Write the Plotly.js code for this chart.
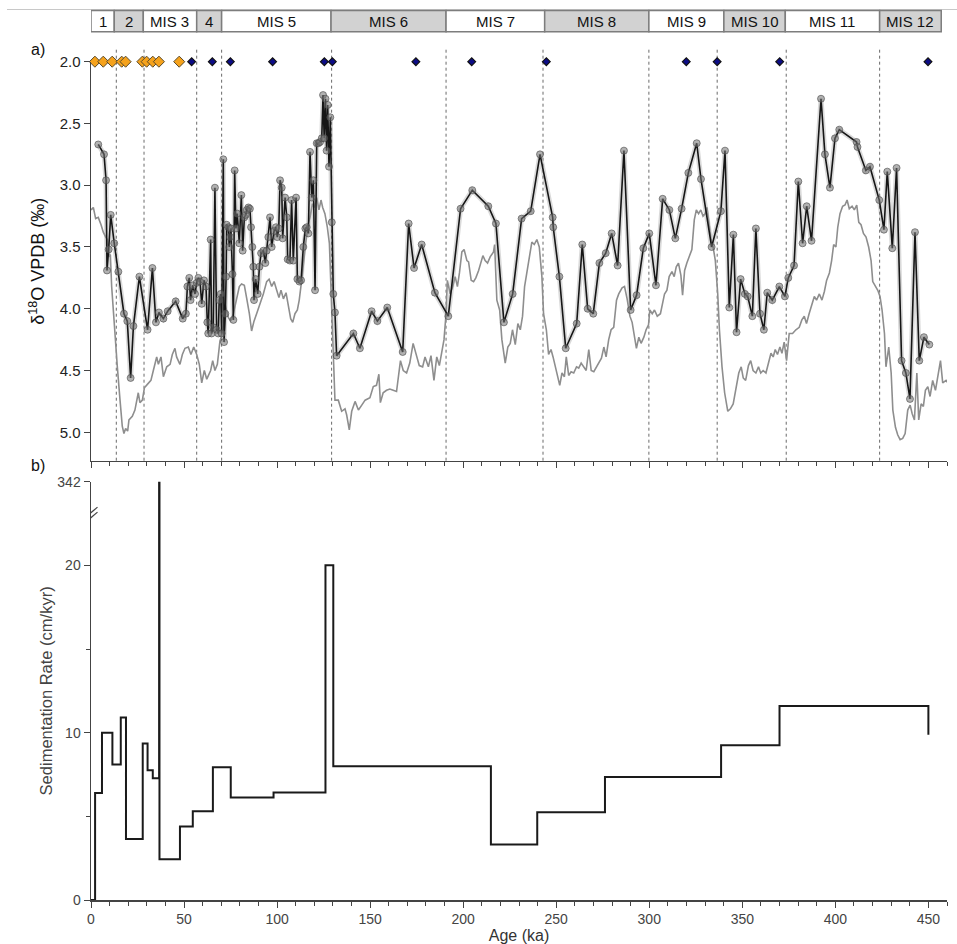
<!DOCTYPE html>
<html>
<head>
<meta charset="utf-8">
<script src="https://cdn.plot.ly/plotly-3.0.1.min.js"></script>
<style>html,body{margin:0;padding:0;background:#fff;}#chart{width:957px;height:944px;}</style>
</head>
<body>
<div id="chart"></div>
<script>
// ---------- data ----------
const misLabels = ['1','2','MIS 3','4','MIS 5','MIS 6','MIS 7','MIS 8','MIS 9','MIS 10','MIS 11','MIS 12'];
const misBoxEdges = [0, 12.5, 28.1, 56.8, 70.2, 129.0, 190.8, 243.8, 299.8, 340.1, 373.1, 423.8, 456.9];
const misBoundaries = [13.6, 28.5, 56.8, 70.2, 129.3, 190.8, 242.9, 299.8, 336.5, 373.6, 423.8];

const c14Ages = [2.1, 6.6, 11.4, 16.5, 18.6, 27.6, 29.9, 33.2, 36.5, 47.4];
const tieAges = [54.1, 65.2, 74.9, 97.6, 125.4, 129.7, 174.6, 204.6, 244.7, 319.9, 336.5, 370.1, 449.8];
const markerLevel = 2.0;

const benthicAge = [3.9,7.0,8.1,8.6,9.5,10.6,12.5,14.7,17.7,19.5,21.3,22.8,26.0,30.4,33.0,34.9,36.5,38.9,41.2,45.5,49.3,51.0,51.8,52.8,53.5,54.6,55.9,56.8,57.7,58.6,59.5,60.7,61.8,62.5,63.0,64.3,64.8,65.7,66.6,67.5,68.4,68.9,69.7,70.2,71.1,71.5,72.2,72.6,72.9,73.8,74.3,74.7,75.2,76.0,76.5,77.2,77.9,78.6,79.7,80.8,81.5,82.4,83.1,83.7,84.6,85.4,86.0,86.7,87.2,87.6,88.5,89.6,90.5,91.4,92.6,93.7,94.4,95.3,96.2,97.1,98.4,99.4,100.1,100.9,101.6,102.5,103.0,104.3,105.2,105.7,106.9,107.8,108.7,110.2,110.9,112.0,112.9,114.1,115.2,115.9,116.8,117.7,118.6,119.5,120.4,121.3,122.2,123.1,124.0,124.7,125.3,126.0,126.6,127.2,127.9,128.6,129.4,130.2,131.1,132.0,141.0,144.5,150.8,153.9,159.2,167.5,170.7,173.6,177.7,184.8,192.0,198.6,204.9,213.5,217.6,221.9,226.6,231.4,236.3,241.3,248.1,248.4,251.7,255.1,261.0,264.0,266.9,269.9,273.2,276.6,279.8,283.0,286.4,290.0,293.2,296.8,300.0,303.6,307.2,310.8,314.0,317.4,321.0,325.5,327.8,333.5,338.5,340.7,343.0,345.2,346.9,349.1,351.4,352.9,355.4,357.3,359.5,361.6,363.4,366.1,369.9,372.9,374.7,377.8,380.1,382.4,384.6,387.2,392.3,394.4,397.1,399.8,402.1,411.4,411.9,416.4,418.6,423.6,426.1,427.9,430.6,432.9,435.6,437.9,440.1,442.8,445.1,447.6,450.5];
const benthicD18O = [2.67,2.75,2.96,3.69,3.52,3.24,3.47,3.70,4.04,4.10,4.56,4.14,3.74,4.17,3.67,4.11,4.03,4.08,4.02,3.94,4.08,4.04,3.82,3.75,3.93,3.81,3.88,3.79,3.75,3.78,3.96,3.77,3.82,4.11,4.20,3.44,4.20,4.15,3.02,4.17,4.20,3.93,3.88,4.20,2.79,4.27,4.04,3.74,3.32,3.34,3.50,3.42,3.35,3.72,4.09,2.88,3.35,3.23,3.47,3.08,3.53,3.26,3.24,3.20,3.18,3.19,3.34,3.50,3.66,3.93,3.76,3.88,3.66,3.55,3.53,3.63,3.53,3.42,3.26,3.50,3.37,3.34,3.42,3.35,2.96,3.02,3.43,3.10,3.26,3.60,3.61,3.12,3.61,3.10,3.76,3.78,3.77,3.50,3.35,3.34,3.39,2.73,3.10,2.96,3.85,2.66,2.66,2.65,2.62,2.27,2.62,2.30,2.72,2.35,2.85,2.45,3.30,3.88,4.03,4.38,4.20,4.32,4.02,4.10,3.99,4.35,3.31,3.67,3.48,3.87,4.06,3.19,3.04,3.17,3.31,4.11,3.88,3.27,3.21,2.75,3.26,3.34,3.74,4.32,4.12,3.48,4.00,4.04,3.63,3.55,3.39,3.65,2.72,4.01,3.89,3.51,3.39,3.81,3.11,3.20,3.43,3.19,2.90,2.66,2.95,3.50,3.21,2.72,3.99,3.40,4.19,3.76,3.88,3.90,4.06,3.35,4.04,4.17,3.87,3.93,3.82,3.90,3.75,3.65,2.97,3.47,3.17,3.45,2.30,2.75,3.02,2.62,2.55,2.65,2.69,2.88,2.85,3.12,3.36,2.89,3.51,2.86,4.42,4.52,4.73,3.38,4.42,4.23,4.29];

const stackAge = [0,1.25,2.5,3.9,5.4,6.6,7.9,8.8,9.7,10.4,11.1,12.5,14.15,15.6,16.8,17.7,18.6,19.7,20.4,22.2,23.6,25.4,26.3,27.6,28.7,30.4,32.2,33.5,34.4,35.3,36.2,37.6,38.9,40.7,42.5,43.7,45.1,46.0,47.8,49.1,50.5,52.3,53.7,55.2,56.8,58.2,59.5,60.9,62.2,64.3,65.4,66.6,67.9,69.3,70.7,72.0,73.8,75.0,76.5,78.3,79.7,80.9,82.4,83.6,85.1,86.3,87.6,89.0,90.8,92.6,94.4,95.7,97.1,98.4,99.8,101.0,102.1,103.4,104.8,106.0,107.3,108.4,109.6,110.9,111.9,113.2,114.5,115.5,116.8,117.7,119.0,120.0,121.3,122.5,123.6,124.5,125.7,127.0,128.1,129.3,130.2,131.1,132.9,134.7,136.5,137.4,138.8,140.1,141.9,143.7,145.5,147.3,149.9,151.7,153.4,154.7,155.5,157.0,158.8,160.6,162.4,164.2,166.3,167.8,169.6,171.3,173.1,174.6,176.4,178.2,179.5,181.3,182.7,184.3,185.8,187.2,188.4,189.7,190.8,191.5,193.0,194.4,195.7,196.9,198.0,199.3,200.5,202.0,202.9,204.3,205.6,206.8,208.3,209.5,210.6,211.8,213.1,214.5,216.3,216.9,218.1,219.6,220.8,222.6,224.0,225.3,226.5,228.0,229.4,230.7,231.9,233.0,234.2,235.7,236.9,238.2,239.6,240.9,242.3,243.2,244.7,245.9,247.2,248.3,249.5,250.8,251.9,253.1,254.4,255.4,256.7,258.0,259.4,260.9,262.1,263.4,264.8,266.1,267.5,268.8,270.2,271.6,272.9,274.3,275.6,276.8,278.2,279.5,280.9,282.4,283.6,285.4,286.7,288.1,289.6,290.8,292.1,293.1,294.4,295.6,297.1,298.3,299.6,300.3,301.6,302.8,304.3,306.0,308.2,309.5,310.7,312.2,313.4,314.5,315.7,317.0,317.9,319.0,320.2,321.5,322.9,324.2,325.3,326.5,327.7,328.9,330.1,331.0,331.9,333.2,334.3,335.5,336.8,337.7,339.1,340.5,342.2,343.6,345.1,346.7,348.1,349.4,350.5,351.8,353.3,354.5,355.8,357.3,358.7,359.9,361.2,362.7,364.1,365.4,366.6,367.7,368.9,370.2,371.3,372.5,373.8,375.2,377.0,378.8,380.6,382.0,383.3,384.5,385.9,387.2,388.7,389.9,391.4,392.8,394.1,395.3,396.8,398.0,399.1,400.3,401.3,402.5,403.9,405.2,406.3,407.5,409.0,410.2,411.5,412.6,413.8,415.1,416.5,417.9,419.2,420.1,421.3,422.8,424.0,425.1,426.4,427.2,428.7,430.0,430.9,432.3,433.5,434.8,436.2,437.5,438.9,440.2,441.3,442.5,443.8,444.8,446.1,447.3,448.4,449.7,450.9,452.3,453.8,455.0,456.5,457.7,459.5,460.5];
const stackD18O = [3.20,3.18,3.27,3.26,3.32,3.38,3.42,3.44,3.58,3.56,3.82,4.15,4.47,4.74,4.95,5.01,4.97,4.99,4.90,4.87,4.82,4.68,4.76,4.74,4.64,4.61,4.58,4.50,4.45,4.39,4.45,4.39,4.55,4.47,4.45,4.37,4.32,4.39,4.45,4.37,4.32,4.31,4.37,4.31,4.37,4.45,4.60,4.50,4.57,4.50,4.42,4.50,4.45,4.26,4.20,3.96,4.07,4.10,4.04,3.93,3.82,3.80,3.81,3.91,4.04,4.18,4.10,4.04,3.96,3.88,3.78,3.76,3.82,3.78,3.85,3.91,3.85,3.92,3.87,3.96,4.08,4.11,4.04,4.01,3.93,3.77,3.58,3.45,3.31,3.26,3.15,3.18,3.10,3.20,3.12,3.18,3.23,3.34,3.47,3.93,4.31,4.74,4.74,4.83,4.81,4.86,4.98,4.83,4.75,4.82,4.78,4.74,4.72,4.63,4.62,4.53,4.76,4.68,4.66,4.65,4.66,4.67,4.42,4.50,4.52,4.44,4.28,4.36,4.46,4.47,4.39,4.47,4.38,4.58,4.39,4.46,4.37,4.25,4.04,3.77,3.88,3.82,3.74,3.82,3.71,3.54,3.52,3.61,3.62,3.77,3.78,3.75,3.69,3.63,3.57,3.61,3.63,3.58,3.54,3.48,3.93,4.01,4.25,4.44,4.31,4.28,4.17,4.29,4.12,4.17,4.06,3.82,3.71,3.55,3.46,3.48,3.44,3.50,3.74,4.04,4.17,4.37,4.33,4.39,4.47,4.55,4.62,4.52,4.55,4.39,4.54,4.51,4.52,4.47,4.48,4.44,4.47,4.50,4.33,4.50,4.51,4.47,4.44,4.40,4.31,4.39,4.25,4.17,4.15,3.93,3.88,3.83,3.82,3.92,4.06,4.11,4.23,4.32,4.23,4.28,4.23,4.17,4.13,4.01,4.04,4.01,4.06,4.04,3.88,3.85,3.74,3.70,3.74,3.66,3.63,3.73,3.89,3.69,3.63,3.58,3.52,3.28,3.20,3.23,3.20,3.25,3.23,3.18,3.31,3.44,3.50,3.61,3.88,4.17,4.47,4.68,4.83,4.81,4.77,4.63,4.52,4.47,4.56,4.58,4.46,4.42,4.50,4.52,4.47,4.52,4.50,4.52,4.44,4.36,4.39,4.33,4.37,4.31,4.36,4.27,4.42,4.20,4.20,4.17,4.15,4.09,4.06,4.12,4.04,3.98,3.90,3.93,3.88,3.93,3.86,3.77,3.71,3.61,3.48,3.50,3.34,3.23,3.17,3.16,3.12,3.19,3.17,3.20,3.16,3.30,3.32,3.39,3.42,3.50,3.61,3.78,3.81,3.85,3.90,4.01,4.20,4.47,4.31,4.52,4.82,4.96,5.02,5.06,5.05,5.01,4.82,4.78,4.85,4.90,4.52,4.90,4.77,4.79,4.66,4.63,4.71,4.58,4.66,4.55,4.42,4.60,4.58,4.60];

const sedAge  = [0, 2.2, 5.9, 11.5, 16.0, 18.8, 27.8, 30.4, 33.2, 36.6, 36.8, 47.8, 54.7, 65.5, 75.1, 98.1, 126.0, 130.2, 214.9, 239.8, 276.2, 338.6, 370.0, 450.0];
const sedRate = [0, 6.4, 10.0, 8.1, 10.9, 3.64, 9.35, 7.75, 7.27, 342, 2.43, 4.4, 5.3, 7.93, 6.12, 6.42, 20.0, 8.0, 3.32, 5.25, 7.35, 9.25, 11.6, 9.88];

// broken axis: values above 20 are compressed so that 342 sits 5 units above 20
const breakLow = 20, breakTop = 342, breakSpan = 5;
const sedTickVals = [0, 10, 20, 342];
const d18oTicks = [2.0, 2.5, 3.0, 3.5, 4.0, 4.5, 5.0];

// ---------- helpers ----------
function brk(v){ return v <= breakLow ? v : breakLow + (v - breakLow) * breakSpan / (breakTop - breakLow); }
const F = 'Liberation Sans, Arial, sans-serif';
const W = 957, H = 944;
const px2y = p => 1 - p / H;

const xDom = [91 / W, 947 / W];
const topDom = [px2y(460.7), px2y(61.7)];
const botDom = [px2y(900), px2y(481.7)];

// ---------- traces ----------
const traces = [
  { x: stackAge, y: stackD18O, xaxis:'x2', yaxis:'y2', type:'scatter', mode:'lines',
    line:{color:'#8e8e8e', width:1.6}, hoverinfo:'skip' },
  { x: benthicAge, y: benthicD18O, xaxis:'x2', yaxis:'y2', type:'scatter', mode:'lines',
    line:{color:'rgba(150,150,150,0.35)', width:5}, hoverinfo:'skip' },
  { x: benthicAge, y: benthicD18O, xaxis:'x2', yaxis:'y2', type:'scatter', mode:'lines+markers',
    line:{color:'#161616', width:1.6},
    marker:{symbol:'circle', size:7, color:'rgba(115,115,115,0.55)', line:{color:'rgba(70,70,70,0.6)', width:1}} },
  { x: c14Ages, y: c14Ages.map(() => markerLevel), xaxis:'x2', yaxis:'y2', type:'scatter', mode:'markers',
    cliponaxis:false, marker:{symbol:'diamond', size:8.5, color:'#f5a21c', line:{color:'#5a4a2a', width:1}} },
  { x: tieAges, y: tieAges.map(() => markerLevel), xaxis:'x2', yaxis:'y2', type:'scatter', mode:'markers',
    cliponaxis:false, marker:{symbol:'diamond', size:6, color:'#0c0c86', line:{color:'#111', width:1.2}} },
  { x: sedAge, y: sedRate.map(brk), xaxis:'x', yaxis:'y', type:'scatter', mode:'lines',
    line:{shape:'hv', color:'#1a1a1a', width:2}, cliponaxis:false }
];

// ---------- shapes & annotations ----------
const shapes = [];
const annotations = [];

// thin top line
shapes.push({type:'line', xref:'paper', yref:'paper', x0:7/W, x1:1, y0:px2y(9.5), y1:px2y(9.5),
  line:{color:'#c8c8c8', width:1}});

for (let i = 0; i < misLabels.length; i++) {
  const even = (i % 2 === 1);
  shapes.push({type:'rect', xref:'x2', yref:'paper', x0:misBoxEdges[i], x1:misBoxEdges[i+1],
    y0:px2y(31.7), y1:px2y(10.5), fillcolor: even ? '#d2d2d2' : '#ffffff',
    line:{color:'#7d7d7d', width:1.5}, layer:'above'});
  annotations.push({xref:'x2', yref:'paper', x:(misBoxEdges[i] + misBoxEdges[i+1]) / 2, y:px2y(21.5),
    text:misLabels[i], showarrow:false, font:{family:F, size:15, color:'#111'}, xanchor:'center', yanchor:'middle'});
}

misBoundaries.forEach(b => {
  shapes.push({type:'line', xref:'x2', yref:'paper', x0:b, x1:b, y0:topDom[0], y1:px2y(48),
    line:{color:'#6a6a6a', width:1, dash:'dot'}, layer:'below'});
});

// axis-break marks on panel b y axis
[-2.5, 2.5].forEach(dy => {
  shapes.push({type:'line', xref:'x', yref:'y', xsizemode:'pixel', ysizemode:'pixel',
    xanchor:0, yanchor:23, x0:-6.5, x1:6.5, y0:-5.5 + dy, y1:5.5 + dy,
    line:{color:'#444', width:1.2}});
});

annotations.push({xref:'paper', yref:'paper', x:38/W, y:px2y(50), text:'a)', showarrow:false,
  xanchor:'center', yanchor:'middle', font:{family:F, size:16, color:'#111'}});
annotations.push({xref:'paper', yref:'paper', x:38/W, y:px2y(465), text:'b)', showarrow:false,
  xanchor:'center', yanchor:'middle', font:{family:F, size:16, color:'#111'}});

// ---------- layout ----------
const axisCommon = {showgrid:false, zeroline:false, showline:true, linecolor:'#444', linewidth:1.5,
  ticks:'outside', tickcolor:'#444', tickwidth:1, automargin:false};

const layout = {
  width:W, height:H, margin:{l:0, r:0, t:0, b:0}, showlegend:false,
  paper_bgcolor:'#ffffff', plot_bgcolor:'rgba(0,0,0,0)',
  font:{family:F, color:'#222'},
  xaxis: Object.assign({}, axisCommon, {domain:xDom, range:[0, 460], anchor:'y',
    tickmode:'linear', tick0:0, dtick:50, ticklen:6, tickfont:{size:14, color:'#444'},
    minor:{dtick:10, tick0:0, ticklen:4, ticks:'outside', tickcolor:'#444'},
    title:{text:'Age (ka)', font:{size:16, color:'#333'}, standoff:3}}),
  yaxis: Object.assign({}, axisCommon, {domain:botDom, range:[0, 25], anchor:'x',
    tickmode:'array', tickvals:sedTickVals.map(brk), ticktext:sedTickVals.map(String), ticklen:6,
    tickfont:{size:14, color:'#444'},
    minor:{tickmode:'array', tickvals:[5, 15], ticklen:4, ticks:'outside', tickcolor:'#444'},
    title:{text:'Sedimentation Rate (cm/kyr)', font:{size:16.5, color:'#444'}, standoff:0}}),
  xaxis2: Object.assign({}, axisCommon, {domain:xDom, range:[0, 460], anchor:'y2',
    showticklabels:false, tickmode:'linear', tick0:0, dtick:50, ticklen:6,
    minor:{dtick:10, tick0:0, ticklen:4, ticks:'outside', tickcolor:'#444'}}),
  yaxis2: Object.assign({}, axisCommon, {domain:topDom, range:[5.23, 2.0], anchor:'x2',
    tickmode:'array', tickvals:d18oTicks, ticktext:d18oTicks.map(v => v.toFixed(1)), ticklen:6,
    tickfont:{size:15, color:'#222'},
    title:{text:'δ<sup>18</sup>O VPDB (‰)', font:{size:18, color:'#111'}, standoff:10}}),
  shapes: shapes,
  annotations: annotations
};

Plotly.newPlot('chart', traces, layout, {displayModeBar:false, staticPlot:true});
</script>
</body>
</html>
